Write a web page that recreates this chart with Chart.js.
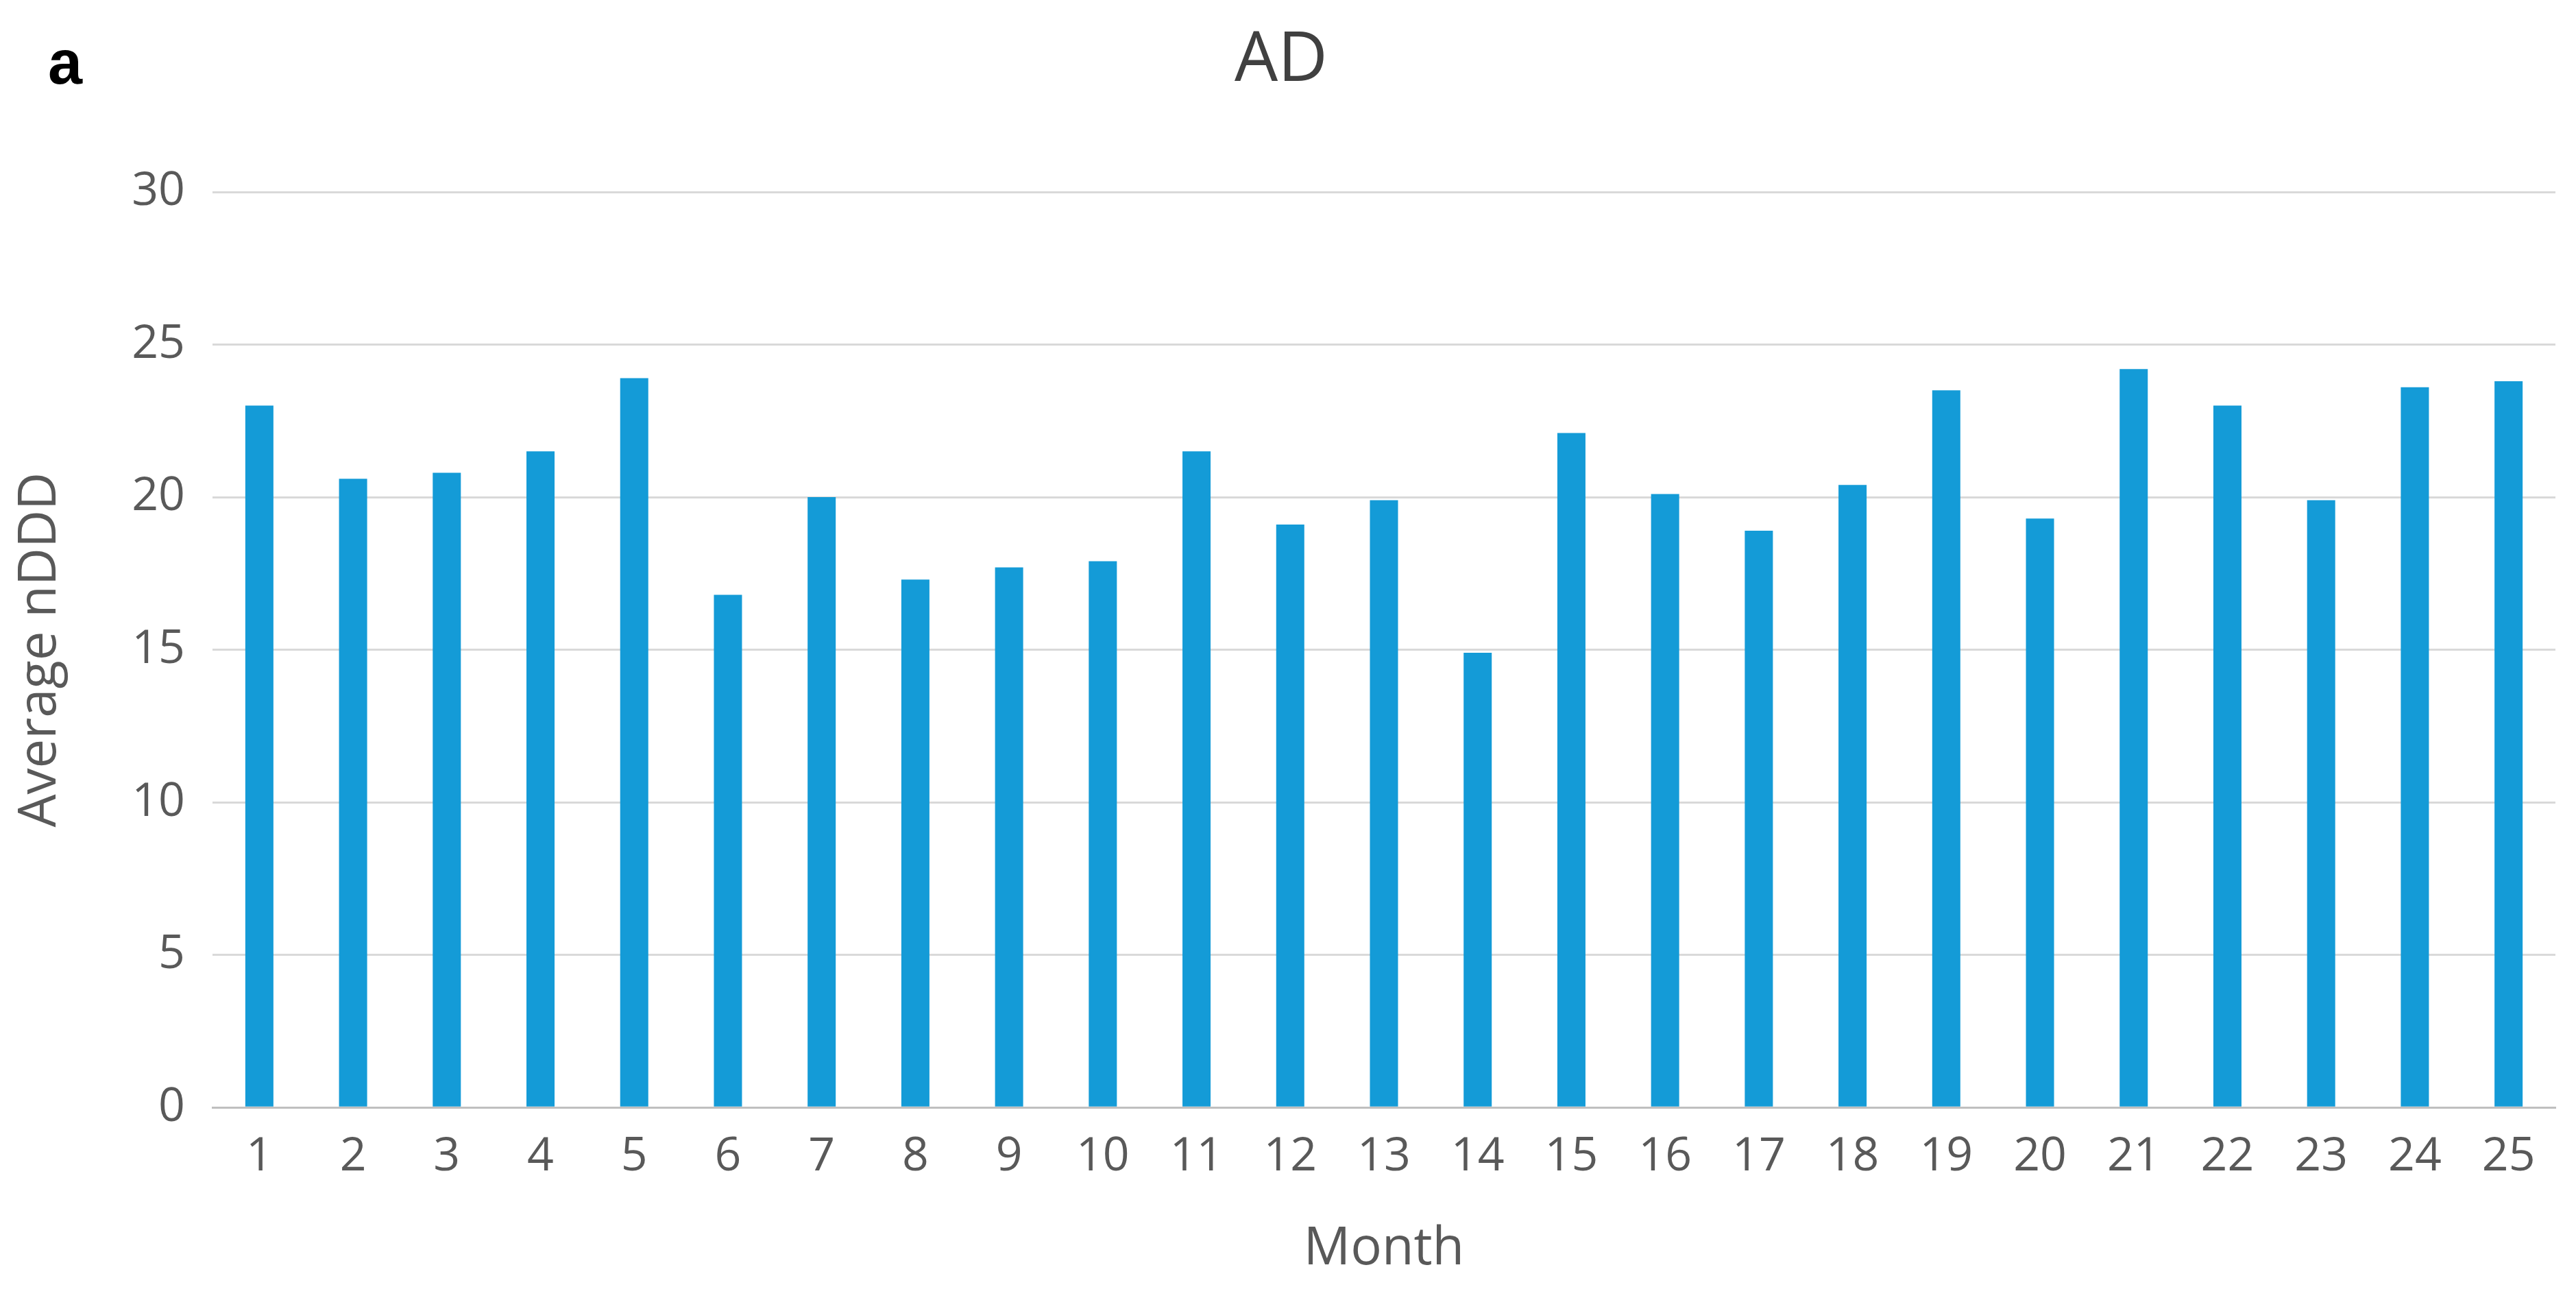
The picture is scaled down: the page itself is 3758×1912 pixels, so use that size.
<!DOCTYPE html>
<html><head><meta charset="utf-8">
<script src="https://cdn.jsdelivr.net/npm/chart.js@4/dist/chart.umd.min.js"></script>
<style>html,body{margin:0;padding:0;background:#fff;}#wrap{position:relative;width:3758px;height:1912px;}
#lbl{position:absolute;left:70px;top:40px;font:bold 90px Arial,"Liberation Sans",sans-serif;color:#000;}</style>
</head><body><div id="wrap"><canvas id="c" width="3758" height="1912"></canvas><div id="lbl">a</div></div>
<script>
const months = ["1","2","3","4","5","6","7","8","9","10","11","12","13","14","15","16","17","18","19","20","21","22","23","24","25"];
const avgNDDD = [23.0,20.6,20.8,21.5,23.9,16.8,20.0,17.3,17.7,17.9,21.5,19.1,19.9,14.9,22.1,20.1,18.9,20.4,23.5,19.3,24.2,23.0,19.9,23.6,23.8];
const font = "'Open Sans','Liberation Sans',sans-serif";
new Chart(document.getElementById('c'), {
  type: 'bar',
  data: { labels: months, datasets: [{ data: avgNDDD, backgroundColor: '#149bd7', barPercentage: 0.3, categoryPercentage: 1.0 }] },
  options: {
    responsive: false, animation: false,
    layout: { padding: { left: 10, right: 30, top: 20, bottom: 40 } },
    plugins: { legend: { display: false }, tooltip: { enabled: false },
      title: { display: true, text: 'AD', color: '#404040', font: { family: font, size: 100, weight: 'normal' }, padding: { top: 10, bottom: 130 } } },
    scales: {
      x: { grid: { display: false }, border: { color: '#bfbfbf', width: 3 },
        ticks: { color: '#595959', font: { family: font, size: 68 }, padding: 24 },
        title: { display: true, text: 'Month', color: '#595959', font: { family: font, size: 76 }, padding: { top: 24 } } },
      y: { min: 0, max: 30, afterFit: s => { s.width = 300; },
        ticks: { stepSize: 5, color: '#595959', font: { family: font, size: 68 }, padding: 40 },
        grid: { color: '#d9d9d9', lineWidth: 3, drawTicks: false }, border: { display: false },
        title: { display: true, text: 'Average nDDD', color: '#595959', font: { family: font, size: 76 }, padding: { bottom: 10 } } }
    }
  }
});
</script></body></html>
